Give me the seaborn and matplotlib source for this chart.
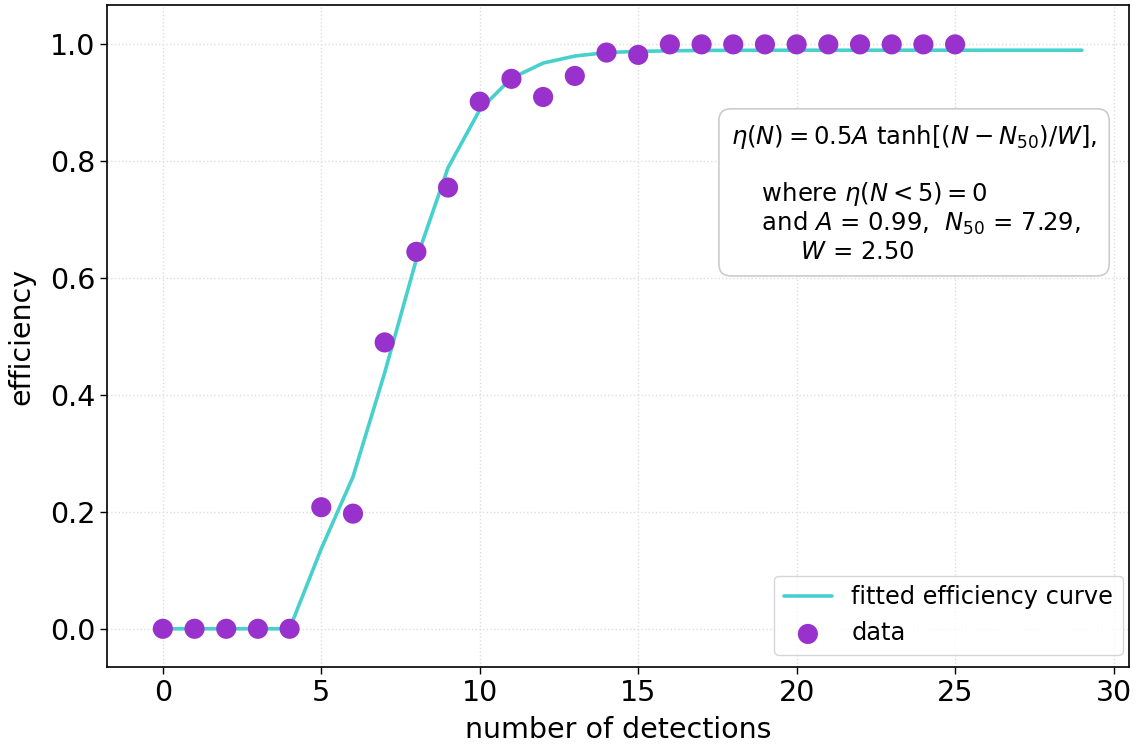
import numpy as np
import pandas as pd
import matplotlib
matplotlib.use("Agg")
import matplotlib.pyplot as plt
import seaborn as sns

# measured efficiency per number of detections
n_data = list(range(0, 26))
eff_data = [0.0, 0.0, 0.0, 0.0, 0.0, 0.208, 0.197, 0.490, 0.645, 0.755,
            0.902, 0.941, 0.910, 0.946, 0.986, 0.982, 1.0, 1.0, 1.0, 1.0,
            1.0, 1.0, 1.0, 1.0, 1.0, 1.0]

# fitted curve evaluated at integer N (A=0.99, N50=7.29, W=2.50)
n_fit = list(range(0, 30))
eff_fit = [0.0, 0.0, 0.0, 0.0, 0.0, 0.137, 0.260, 0.438, 0.632, 0.789,
           0.888, 0.942, 0.968, 0.980, 0.986, 0.988, 0.989, 0.9896, 0.9898, 0.9899,
           0.9900, 0.9900, 0.9900, 0.9900, 0.9900, 0.9900, 0.9900, 0.9900, 0.9900, 0.9900]

sns.set_style("ticks")
plt.rcParams["font.family"] = ["DejaVu Sans"]
for key in ["text.color", "axes.labelcolor", "xtick.color", "ytick.color"]:
    plt.rcParams[key] = "black"

fig, ax = plt.subplots(figsize=(11.39, 7.45), dpi=100)
fig.subplots_adjust(left=0.094, right=0.991, top=0.993, bottom=0.105)

ax.grid(True, color="#dddddd", linestyle=":", linewidth=1.0, zorder=1.5)

sns.lineplot(x=n_fit, y=eff_fit, ax=ax, color="mediumturquoise", linewidth=2.6,
             label="fitted efficiency curve", zorder=1)
sns.scatterplot(x=n_data, y=eff_data, ax=ax, color="darkorchid", s=210,
                edgecolor="none", label="data", zorder=3)

ax.set_xlim(-1.76, 30.48)
ax.set_ylim(-0.065, 1.067)
ax.set_xticks([0, 5, 10, 15, 20, 25, 30])
ax.set_yticks([0.0, 0.2, 0.4, 0.6, 0.8, 1.0])
ax.set_yticklabels(["0.0", "0.2", "0.4", "0.6", "0.8", "1.0"])
ax.tick_params(labelsize=20.5, length=5, width=1, color="black")
for sp in ax.spines.values():
    sp.set_color("black")
    sp.set_linewidth(1.2)

ax.set_xlabel("number of detections", fontsize=20.5, labelpad=7)
ax.set_ylabel("efficiency", fontsize=20.5, labelpad=10)

label = ("$\\eta(N) = 0.5A\\ \\mathrm{tanh}[(N - N_{50})/W]$,\n\n"
         "    where $\\eta(N < 5) = 0$\n"
         "    and $A$ = 0.99,  $N_{50}$ = 7.29,\n"
         "         $W$ = 2.50")
ax.text(0.969, 0.822, label, transform=ax.transAxes, ha="right", va="top",
        fontsize=17.5, linespacing=1.12, multialignment="left",
        bbox=dict(boxstyle="round,pad=0.5", facecolor="white",
                  edgecolor="#cccccc", linewidth=1.2))

leg = ax.legend(loc="lower right", bbox_to_anchor=(0.994, 0.018), fontsize=17.3,
                frameon=True, fancybox=True, framealpha=0.8, edgecolor="#cccccc",
                handlelength=2.0, borderpad=0.4, labelspacing=0.5, borderaxespad=0.0)

fig.savefig("out.png", dpi=100)
